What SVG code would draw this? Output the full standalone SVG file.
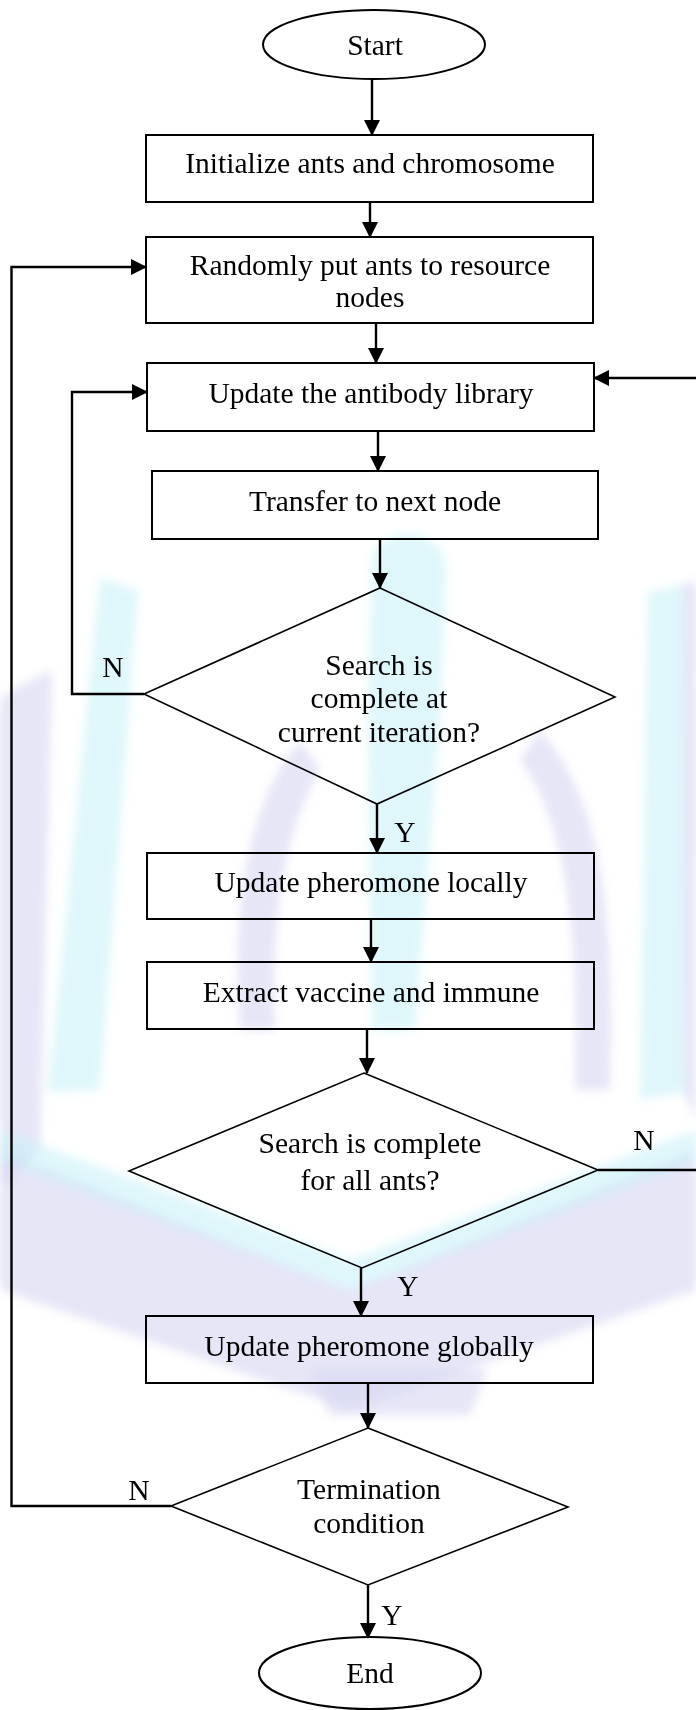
<svg xmlns="http://www.w3.org/2000/svg" width="696" height="1710" viewBox="0 0 696 1710">
<defs>
<style>
.box{fill:none;stroke:#000;stroke-width:2}
.dia{fill:none;stroke:#000;stroke-width:1.6}
.t{font-family:"Liberation Serif","Times New Roman",serif;font-size:29.5px;fill:#000;text-anchor:middle}
.c{fill:none;stroke:#000;stroke-width:2.4}
.cy{fill:#c4f0f8;opacity:0.55}
.lv{fill:#d6d6f2;opacity:0.6}
</style>
<marker id="ah" markerUnits="userSpaceOnUse" markerWidth="16" markerHeight="16" refX="15" refY="8" orient="auto">
<path d="M0,0 L16,8 L0,16 z" fill="#000"/>
</marker>
<filter id="soft" x="-10%" y="-10%" width="120%" height="120%"><feGaussianBlur stdDeviation="5"/></filter>
</defs>
<rect width="696" height="1710" fill="#fff"/>
<g id="watermark" filter="url(#soft)">
<polygon class="lv" points="12,690 52,670 40,1150 0,1190 0,700"/>
<polygon class="cy" points="100,578 138,590 100,1090 48,1092"/>
<polygon class="lv" points="0,1150 350,1290 350,1410 0,1290"/>
<polygon class="cy" points="0,1130 350,1260 350,1290 0,1160"/>
<polygon class="lv" points="696,1150 350,1290 350,1410 696,1290"/>
<polygon class="cy" points="696,1130 350,1260 350,1290 696,1160"/>
<polygon class="cy" points="648,592 682,585 684,1092 640,1100"/>
<polygon class="lv" points="682,585 696,580 696,1120 684,1092"/>
<path class="cy" d="M372,560 C380,525 440,525 446,565 L440,720 L415,1030 L372,1030 L368,720 Z"/>
<path class="lv" d="M300,740 C250,800 230,900 240,1030 L275,1030 C270,920 285,830 320,770 Z"/>
<path class="lv" d="M540,730 C600,800 615,900 610,1090 L575,1090 C580,930 565,820 520,760 Z"/>
<polygon class="lv" points="311,1370 488,1370 470,1415 330,1415"/>
</g>
<g id="connectors">
<line class="c" x1="372" y1="79" x2="372" y2="135" marker-end="url(#ah)"/>
<line class="c" x1="370" y1="202" x2="370" y2="237" marker-end="url(#ah)"/>
<line class="c" x1="376" y1="323" x2="376" y2="363" marker-end="url(#ah)"/>
<line class="c" x1="378" y1="431" x2="378" y2="471" marker-end="url(#ah)"/>
<line class="c" x1="380" y1="539" x2="380" y2="588" marker-end="url(#ah)"/>
<line class="c" x1="377" y1="804" x2="377" y2="853" marker-end="url(#ah)"/>
<line class="c" x1="371" y1="919" x2="371" y2="962" marker-end="url(#ah)"/>
<line class="c" x1="367" y1="1029" x2="367" y2="1073" marker-end="url(#ah)"/>
<line class="c" x1="361" y1="1268" x2="361" y2="1316" marker-end="url(#ah)"/>
<line class="c" x1="368" y1="1383" x2="368" y2="1428" marker-end="url(#ah)"/>
<line class="c" x1="368" y1="1585" x2="368" y2="1638" marker-end="url(#ah)"/>
<path class="c" d="M144,694 H72 V392 H147" marker-end="url(#ah)"/>
<path class="c" d="M598,1170 H702 V378 H594" marker-end="url(#ah)"/>
<path class="c" d="M171,1506 H11.5 V267 H146" marker-end="url(#ah)"/>
<text class="t" x="113" y="677">N</text>
<text class="t" x="405" y="842">Y</text>
<text class="t" x="644" y="1150">N</text>
<text class="t" x="408" y="1296">Y</text>
<text class="t" x="139" y="1500">N</text>
<text class="t" x="392" y="1625">Y</text>
</g>
<g id="start"><ellipse class="box" cx="374" cy="44.5" rx="111" ry="34.5"/><text class="t" x="375" y="55">Start</text></g>
<g id="init"><rect class="box" x="146" y="135" width="447" height="67"/><text class="t" x="370" y="173">Initialize ants and chromosome</text></g>
<g id="random"><rect class="box" x="146" y="237" width="447" height="86"/><text class="t" x="370" y="275">Randomly put ants to resource</text><text class="t" x="370" y="307">nodes</text></g>
<g id="antibody"><rect class="box" x="147" y="363" width="447" height="68"/><text class="t" x="371" y="403">Update the antibody library</text></g>
<g id="transfer"><rect class="box" x="152" y="471" width="446" height="68"/><text class="t" x="375" y="511">Transfer to next node</text></g>
<g id="decision1"><polygon class="dia" points="380,588 615,697 377,804 144,694"/><text class="t" x="379" y="675">Search is</text><text class="t" x="379" y="708">complete at</text><text class="t" x="379" y="742">current iteration?</text></g>
<g id="local"><rect class="box" x="147" y="853" width="447" height="66"/><text class="t" x="371" y="892">Update pheromone locally</text></g>
<g id="vaccine"><rect class="box" x="147" y="962" width="447" height="67"/><text class="t" x="371" y="1002">Extract vaccine and immune</text></g>
<g id="decision2"><polygon class="dia" points="364,1073 598,1170 362,1268 129,1171"/><text class="t" x="370" y="1153">Search is complete</text><text class="t" x="370" y="1190">for all ants?</text></g>
<g id="global"><rect class="box" x="146" y="1316" width="447" height="67"/><text class="t" x="369" y="1356">Update pheromone globally</text></g>
<g id="decision3"><polygon class="dia" points="368,1428 568,1507 368,1585 171,1506"/><text class="t" x="369" y="1499">Termination</text><text class="t" x="369" y="1533">condition</text></g>
<g id="end"><ellipse class="box" cx="370" cy="1673" rx="111" ry="36"/><text class="t" x="370" y="1683">End</text></g>
</svg>
